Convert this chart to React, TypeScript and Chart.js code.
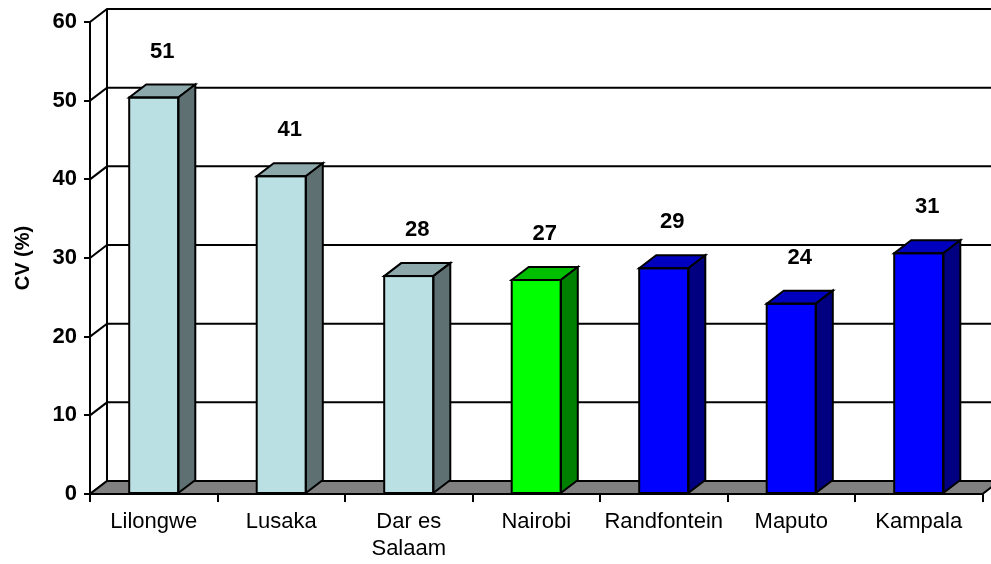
import React, { useEffect, useRef } from "react";
import { Chart, registerables } from "chart.js";

Chart.register(...registerables);

const categories: (string | string[])[] = [
  "Lilongwe",
  "Lusaka",
  ["Dar es", "Salaam"],
  "Nairobi",
  "Randfontein",
  "Maputo",
  "Kampala",
];
const cvValues = [50.4, 40.4, 27.7, 27.2, 28.7, 24.2, 30.6];
const cvLabels = ["51", "41", "28", "27", "29", "24", "31"];
const frontColors = ["#BBE0E3", "#BBE0E3", "#BBE0E3", "#00FF00", "#0000FF", "#0000FF", "#0000FF"];
const topColors = ["#8CA8AA", "#8CA8AA", "#8CA8AA", "#00BF00", "#0000BF", "#0000BF", "#0000BF"];
const sideColors = ["#5E7072", "#5E7072", "#5E7072", "#008000", "#000080", "#000080", "#000080"];
const yMin = 0;
const yMax = 60;
const yStep = 10;

const DX = 17;
const DY = 13;
const LW = 2;
const FONT = "'Liberation Sans', Arial, Helvetica, sans-serif";

const threeD = {
  id: "threeD",
  beforeDatasetsDraw(chart: any) {
    const { ctx, chartArea: a, scales } = chart;
    const y = scales.y;
    ctx.save();
    ctx.strokeStyle = "#000";
    ctx.lineWidth = LW;
    for (const t of y.ticks) {
      const py = y.getPixelForValue(t.value);
      ctx.beginPath();
      ctx.moveTo(a.left, py);
      ctx.lineTo(a.left + DX, py - DY);
      if (t.value > yMin) ctx.lineTo(chart.width, py - DY);
      ctx.stroke();
    }
    ctx.beginPath();
    ctx.moveTo(a.left + DX, a.top - DY);
    ctx.lineTo(a.left + DX, a.bottom - DY);
    ctx.stroke();
    ctx.fillStyle = "#808080";
    ctx.beginPath();
    ctx.moveTo(a.left, a.bottom);
    ctx.lineTo(a.right, a.bottom);
    ctx.lineTo(a.right + DX, a.bottom - DY);
    ctx.lineTo(a.left + DX, a.bottom - DY);
    ctx.closePath();
    ctx.fill();
    ctx.stroke();
    ctx.restore();
  },
  afterDatasetsDraw(chart: any) {
    const { ctx } = chart;
    const meta = chart.getDatasetMeta(0);
    ctx.save();
    ctx.strokeStyle = "#000";
    ctx.lineWidth = LW;
    ctx.lineJoin = "miter";
    meta.data.forEach((bar: any, i: number) => {
      const { x, y, base, width } = bar.getProps(["x", "y", "base", "width"], true);
      const x0 = x - width / 2;
      const x1 = x + width / 2;
      ctx.fillStyle = topColors[i];
      ctx.beginPath();
      ctx.moveTo(x0, y);
      ctx.lineTo(x1, y);
      ctx.lineTo(x1 + DX, y - DY);
      ctx.lineTo(x0 + DX, y - DY);
      ctx.closePath();
      ctx.fill();
      ctx.stroke();
      ctx.fillStyle = sideColors[i];
      ctx.beginPath();
      ctx.moveTo(x1, y);
      ctx.lineTo(x1 + DX, y - DY);
      ctx.lineTo(x1 + DX, base - DY);
      ctx.lineTo(x1, base);
      ctx.closePath();
      ctx.fill();
      ctx.stroke();
      ctx.strokeRect(x0, y, width, base - y);
      ctx.fillStyle = "#000";
      ctx.font = `bold 22px ${FONT}`;
      ctx.textAlign = "center";
      ctx.textBaseline = "middle";
      ctx.fillText(cvLabels[i], x + DX / 2, y - 46);
    });
    ctx.restore();
  },
};

export default function App() {
  const ref = useRef<HTMLCanvasElement>(null);
  useEffect(() => {
    document.body.style.margin = "0";
    const chart = new Chart(ref.current!, {
      type: "bar",
      data: {
        labels: categories,
        datasets: [
          {
            data: cvValues,
            backgroundColor: frontColors,
            borderColor: "#000",
            borderWidth: 0,
            categoryPercentage: 1,
            barPercentage: 0.385,
          },
        ],
      },
      options: {
        responsive: false,
        animation: false,
        devicePixelRatio: 1,
        layout: { padding: { top: 22, right: 8.5, left: 0, bottom: 0 } },
        plugins: { legend: { display: false }, tooltip: { enabled: false } },
        scales: {
          x: {
            grid: {
              display: true,
              drawOnChartArea: false,
              drawTicks: true,
              tickLength: 8,
              color: "#000",
              lineWidth: LW,
              offset: true,
            },
            border: { display: true, color: "#000", width: LW },
            ticks: {
              color: "#000",
              padding: 6,
              maxRotation: 0,
              autoSkip: false,
              font: { family: FONT, size: 22, lineHeight: 1.25 },
            },
            afterFit: (s: any) => {
              s.height = 70;
            },
          },
          y: {
            min: yMin,
            max: yMax,
            ticks: {
              stepSize: yStep,
              color: "#000",
              padding: 7,
              font: { family: FONT, size: 22, weight: "bold" },
            },
            grid: {
              display: true,
              drawOnChartArea: false,
              drawTicks: true,
              tickLength: 6,
              color: "#000",
              lineWidth: LW,
            },
            border: { display: true, color: "#000", width: LW },
            title: {
              display: true,
              text: "CV (%)",
              color: "#000",
              padding: { top: 11, bottom: 0 },
              font: { family: FONT, size: 20, weight: "bold" },
            },
            afterFit: (s: any) => {
              s.width = 90;
            },
          },
        },
      },
      plugins: [threeD],
    });
    return () => chart.destroy();
  }, []);
  return (
    <div style={{ position: "absolute", left: 0, top: 0, width: 991, height: 564, background: "#fff" }}>
      <canvas ref={ref} width={991} height={564} style={{ display: "block" }} />
    </div>
  );
}
